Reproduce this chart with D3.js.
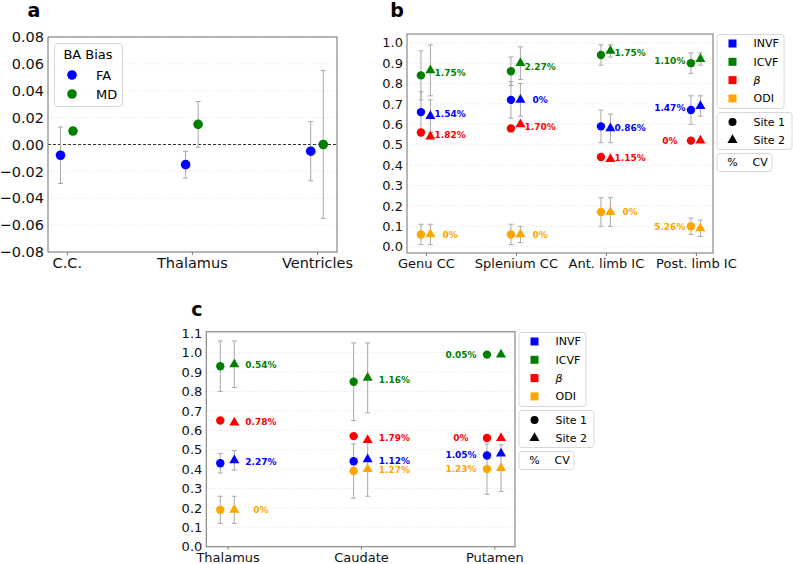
<!DOCTYPE html>
<html>
<head>
<meta charset="utf-8">
<script src="https://cdn.jsdelivr.net/npm/d3@7"></script>
<style>
  body { margin: 0; background: #fff; }
  svg { display: block; }
  svg text { font-family: "DejaVu Sans", sans-serif; }
</style>
</head>
<body>
<svg id="chart" width="793" height="564"></svg>
<script>
// ---- panel a : BA bias ----
const aRegions = ['C.C.', 'Thalamus', 'Ventricles'];
const faBias = [-0.008, -0.015, -0.005];
const faErr = [0.021, 0.010, 0.022];
const mdBias = [0.010, 0.015, 0.000];
const mdErr = [0.000, 0.017, 0.055];
const aTicks = [-0.08, -0.06, -0.04, -0.02, 0.00, 0.02, 0.04, 0.06, 0.08];

// ---- panel b : white matter ----
const bRegions = ['Genu CC', 'Splenium CC', 'Ant. limb IC', 'Post. limb IC'];
const bInvf1 = [0.66, 0.72, 0.59, 0.67], bInvf1Err = [0.10, 0.09, 0.08, 0.07];
const bInvf2 = [0.64, 0.72, 0.58, 0.69], bInvf2Err = [0.08, 0.08, 0.07, 0.05];
const bIcvf1 = [0.84, 0.86, 0.94, 0.90], bIcvf1Err = [0.12, 0.07, 0.05, 0.05];
const bIcvf2 = [0.865, 0.90, 0.96, 0.92], bIcvf2Err = [0.125, 0.08, 0.03, 0.03];
const bBeta1 = [0.56, 0.58, 0.44, 0.52], bBeta1Err = [0, 0, 0, 0];
const bBeta2 = [0.54, 0.60, 0.43, 0.52], bBeta2Err = [0, 0, 0, 0];
const bOdi1 = [0.06, 0.06, 0.17, 0.10], bOdi1Err = [0.05, 0.05, 0.07, 0.04];
const bOdi2 = [0.06, 0.06, 0.17, 0.09], bOdi2Err = [0.05, 0.04, 0.07, 0.04];
const bInvfCv = ['1.54%', '0%', '0.86%', '1.47%'];
const bIcvfCv = ['1.75%', '2.27%', '1.75%', '1.10%'];
const bBetaCv = ['1.82%', '1.70%', '1.15%', '0%'];
const bOdiCv = ['0%', '0%', '0%', '5.26%'];
const bTicks = [0, 0.1, 0.2, 0.3, 0.4, 0.5, 0.6, 0.7, 0.8, 0.9, 1.0];

// ---- panel c : grey matter ----
const cRegions = ['Thalamus', 'Caudate', 'Putamen'];
const cInvf1 = [0.43, 0.44, 0.47], cInvf1Err = [0.05, 0, 0];
const cInvf2 = [0.445, 0.45, 0.48], cInvf2Err = [0.05, 0, 0];
const cIcvf1 = [0.93, 0.85, 0.99], cIcvf1Err = [0.13, 0.20, 0];
const cIcvf2 = [0.94, 0.87, 0.99], cIcvf2Err = [0.12, 0.18, 0];
const cBeta1 = [0.65, 0.57, 0.56], cBeta1Err = [0, 0, 0];
const cBeta2 = [0.64, 0.55, 0.56], cBeta2Err = [0, 0, 0];
const cOdi1 = [0.19, 0.39, 0.40], cOdi1Err = [0.07, 0.14, 0.13];
const cOdi2 = [0.19, 0.40, 0.405], cOdi2Err = [0.07, 0.14, 0.12];
const cInvfCv = ['2.27%', '1.12%', '1.05%'];
const cIcvfCv = ['0.54%', '1.16%', '0.05%'];
const cBetaCv = ['0.78%', '1.79%', '0%'];
const cOdiCv = ['0%', '1.27%', '1.23%'];
const cTicks = [0, 0.1, 0.2, 0.3, 0.4, 0.5, 0.6, 0.7, 0.8, 0.9, 1.0, 1.1];

const legendNames = ['INVF', 'ICVF', 'β', 'ODI'];
const colors = ['#0000ff', '#008000', '#ff0000', '#ffa500'];
const errColor = '#a8a8a8';

const svg = d3.select('#chart');
svg.append('rect').attr('width', 793).attr('height', 564).attr('fill', '#fff');

const triangle = d3.symbol().type(d3.symbolTriangle).size(44);

function axesFrame(x, y, tickVals, fmt, yFont, xLabels, xFont) {
  const g = svg.append('g');
  const [x0, x1] = x.range();
  const [y0, y1] = y.range();
  // dotted grid
  g.selectAll('.grid').data(tickVals).enter().append('line')
    .attr('x1', x0).attr('x2', x1)
    .attr('y1', d => y(d)).attr('y2', d => y(d))
    .attr('stroke', '#dcdcdc').attr('stroke-width', 0.8)
    .attr('stroke-dasharray', '1,2');
  const ya = g.append('g').attr('transform', `translate(${x0},0)`)
    .call(d3.axisLeft(y).tickValues(tickVals).tickFormat(fmt).tickSize(0).tickPadding(4));
  ya.select('.domain').remove();
  ya.selectAll('text').style('font-size', yFont + 'px').attr('fill', '#111');
  const xa = g.append('g').attr('transform', `translate(0,${y0})`)
    .call(d3.axisBottom(x).tickValues(d3.range(xLabels.length)).tickFormat(i => xLabels[i])
      .tickSize(3).tickPadding(3));
  xa.select('.domain').remove();
  xa.selectAll('line').attr('stroke', '#777');
  xa.selectAll('text').style('font-size', xFont + 'px').attr('fill', '#111');
  return g;
}

function drawFrame(x, y) {
  const [x0, x1] = x.range();
  const [y0, y1] = y.range();
  svg.append('rect').attr('x', x0).attr('y', y1)
    .attr('width', x1 - x0).attr('height', y0 - y1)
    .attr('fill', 'none').attr('stroke', '#888').attr('stroke-width', 1.2);
}

function errBar(g, cx, yTop, yBot) {
  if (Math.abs(yBot - yTop) < 0.5) return;
  g.append('line').attr('x1', cx).attr('x2', cx).attr('y1', yTop).attr('y2', yBot)
    .attr('stroke', errColor).attr('stroke-width', 1);
  [yTop, yBot].forEach(yy => g.append('line')
    .attr('x1', cx - 2.5).attr('x2', cx + 2.5).attr('y1', yy).attr('y2', yy)
    .attr('stroke', errColor).attr('stroke-width', 1));
}

function panelTitle(txt, x, y) {
  svg.append('text').attr('x', x).attr('y', y).attr('text-anchor', 'middle')
    .style('font-size', '19px').style('font-weight', 'bold').text(txt);
}

// ================= panel a =================
{
  const x = d3.scaleLinear().domain([-0.15, 2.16]).range([48, 337]);
  const y = d3.scaleLinear().domain([-0.08, 0.08]).range([252, 37]);
  axesFrame(x, y, aTicks, d3.format('.2f'), 14.5, aRegions, 14.5);
  svg.append('line').attr('x1', 48).attr('x2', 337).attr('y1', y(0)).attr('y2', y(0))
    .attr('stroke', '#000').attr('stroke-width', 0.8).attr('stroke-dasharray', '3,2');
  const gE = svg.append('g'), gM = svg.append('g');
  const series = [
    { vals: faBias, errs: faErr, color: '#0000ff', dx: -0.05 },
    { vals: mdBias, errs: mdErr, color: '#008000', dx: 0.05 }
  ];
  series.forEach(s => {
    s.vals.forEach((v, i) => {
      const cx = x(i + s.dx);
      errBar(gE, cx, y(v + s.errs[i]), y(v - s.errs[i]));
      gM.append('circle').attr('cx', cx).attr('cy', y(v)).attr('r', 4.8).attr('fill', s.color);
    });
  });
  drawFrame(x, y);
  // legend
  const lg = svg.append('g');
  lg.append('rect').attr('x', 54.5).attr('y', 43.5).attr('width', 68).attr('height', 63).attr('rx', 3)
    .attr('fill', '#fff').attr('fill-opacity', 0.85).attr('stroke', '#d8d8d8');
  lg.append('text').attr('x', 88).attr('y', 54.5).attr('dy', '0.35em').attr('text-anchor', 'middle')
    .style('font-size', '13px').text('BA Bias');
  [['FA', '#0000ff'], ['MD', '#008000']].forEach((d, i) => {
    const yy = 75 + i * 19;
    lg.append('circle').attr('cx', 72).attr('cy', yy).attr('r', 4.8).attr('fill', d[1]);
    lg.append('text').attr('x', 96).attr('y', yy).attr('dy', '0.35em')
      .style('font-size', '13px').text(d[0]);
  });
  panelTitle('a', 34, 17);
}

// ================= panels b and c =================
function metricPanel(cfg) {
  const x = d3.scaleLinear().domain(cfg.xDomain).range(cfg.xRange);
  const y = d3.scaleLinear().domain(cfg.yDomain).range(cfg.yRange);
  axesFrame(x, y, cfg.ticks, d3.format('.1f'), 13, cfg.regions, 13);
  const gE = svg.append('g'), gM = svg.append('g'), gT = svg.append('g');
  cfg.metrics.forEach((m, k) => {
    m.s1.forEach((v1, i) => {
      const v2 = m.s2[i];
      const cx1 = x(i - 0.055), cx2 = x(i + 0.05);
      errBar(gE, cx1, y(v1 + m.e1[i]), y(v1 - m.e1[i]));
      errBar(gE, cx2, y(v2 + m.e2[i]), y(v2 - m.e2[i]));
      gM.append('circle').attr('cx', cx1).attr('cy', y(v1)).attr('r', 4.2).attr('fill', colors[k]);
      gM.append('path').attr('d', triangle).attr('transform', `translate(${cx2},${y(v2)})`)
        .attr('fill', colors[k]);
      gT.append('text').attr('x', x(i + cfg.labelDx[i])).attr('y', y((v1 + v2) / 2))
        .attr('dy', '0.35em').attr('text-anchor', 'middle')
        .style('font-size', '9px').style('font-weight', 'bold')
        .attr('fill', colors[k]).text(m.cv[i]);
    });
  });
  drawFrame(x, y);

  // legends
  const lx = cfg.legend[0], ly = cfg.legend[1];
  const lg = svg.append('g');
  const box = (yy, w, h) => lg.append('rect').attr('x', lx + 0.5).attr('y', yy + 0.5)
    .attr('width', w).attr('height', h).attr('rx', 3)
    .attr('fill', '#fff').attr('stroke', '#d8d8d8');
  box(ly, 67, 74);
  legendNames.forEach((n, k) => {
    const yy = ly + 9.5 + k * 18.3;
    lg.append('rect').attr('x', lx + 12).attr('y', yy - 4).attr('width', 8).attr('height', 8)
      .attr('fill', colors[k]);
    lg.append('text').attr('x', lx + 37).attr('y', yy).attr('dy', '0.35em')
      .style('font-size', '11px').style('font-style', k === 2 ? 'italic' : 'normal').text(n);
  });
  box(ly + 78, 75, 37);
  lg.append('circle').attr('cx', lx + 16).attr('cy', ly + 88).attr('r', 4).attr('fill', '#000');
  lg.append('text').attr('x', lx + 37).attr('y', ly + 88).attr('dy', '0.35em')
    .style('font-size', '11px').text('Site 1');
  lg.append('path').attr('d', triangle).attr('transform', `translate(${lx + 16},${ly + 106})`)
    .attr('fill', '#000');
  lg.append('text').attr('x', lx + 37).attr('y', ly + 106).attr('dy', '0.35em')
    .style('font-size', '11px').text('Site 2');
  box(ly + 119, 55, 18);
  lg.append('text').attr('x', lx + 16).attr('y', ly + 128.5).attr('dy', '0.35em')
    .attr('text-anchor', 'middle').style('font-size', '11px').text('%');
  lg.append('text').attr('x', lx + 36).attr('y', ly + 128.5).attr('dy', '0.35em')
    .style('font-size', '11px').text('CV');
}

metricPanel({
  regions: bRegions,
  xDomain: [-0.21, 3.19], xRange: [407, 713],
  yDomain: [-0.031, 1.043], yRange: [253, 34],
  ticks: bTicks,
  labelDx: [0.27, 0.27, 0.27, -0.29],
  legend: [716.5, 34],
  metrics: [
    { s1: bInvf1, e1: bInvf1Err, s2: bInvf2, e2: bInvf2Err, cv: bInvfCv },
    { s1: bIcvf1, e1: bIcvf1Err, s2: bIcvf2, e2: bIcvf2Err, cv: bIcvfCv },
    { s1: bBeta1, e1: bBeta1Err, s2: bBeta2, e2: bBeta2Err, cv: bBetaCv },
    { s1: bOdi1, e1: bOdi1Err, s2: bOdi2, e2: bOdi2Err, cv: bOdiCv }
  ]
});
panelTitle('b', 397, 17);

metricPanel({
  regions: cRegions,
  xDomain: [-0.16, 2.155], xRange: [206.3, 515],
  yDomain: [0, 1.108], yRange: [546.7, 331.7],
  ticks: cTicks,
  labelDx: [0.25, 0.25, -0.25],
  legend: [518.5, 332],
  metrics: [
    { s1: cInvf1, e1: cInvf1Err, s2: cInvf2, e2: cInvf2Err, cv: cInvfCv },
    { s1: cIcvf1, e1: cIcvf1Err, s2: cIcvf2, e2: cIcvf2Err, cv: cIcvfCv },
    { s1: cBeta1, e1: cBeta1Err, s2: cBeta2, e2: cBeta2Err, cv: cBetaCv },
    { s1: cOdi1, e1: cOdi1Err, s2: cOdi2, e2: cOdi2Err, cv: cOdiCv }
  ]
});
panelTitle('c', 197, 316);
</script>
</body>
</html>
